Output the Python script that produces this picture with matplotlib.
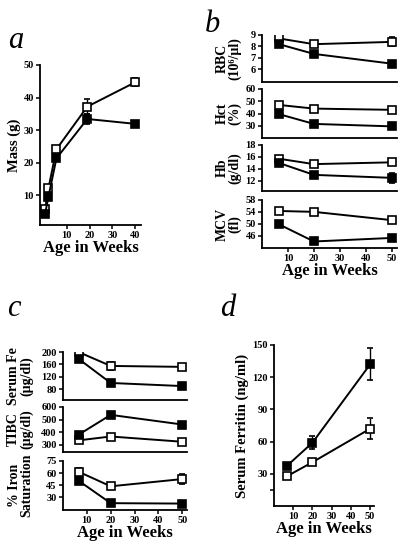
import matplotlib
matplotlib.use("Agg")
from matplotlib import pyplot as plt

plt.rcParams["font.family"] = ["Liberation Serif", "DejaVu Serif"]
plt.rcParams["font.weight"] = "bold"

W, H = 400, 544

# panel a: body mass
a_weeks = [0.5, 2, 5.5, 19, 40]
a_open = [5.6, 12.1, 24.1, 37.2, 44.7]
a_open_err = [0.5, 0.5, 0.5, 2.3, 1.3]
a_filled = [4.1, 9.5, 21.3, 33.4, 31.9]
a_filled_err = [0.5, 0.8, 0.8, 1.6, 1.0]

# panels b, c, d share these ages
weeks = [6.5, 20, 50]

rbc_open = [8.7, 8.2, 8.4]
rbc_open_err = [0.1, 0.1, 0.4]
rbc_filled = [8.2, 7.35, 6.5]
rbc_filled_err = [0.1, 0.1, 0.15]
hct_open = [47, 44, 43]
hct_open_err = [1, 1, 1.5]
hct_filled = [39.5, 31.5, 29.5]
hct_filled_err = [1, 1, 1]
hb_open = [15.7, 14.8, 15.1]
hb_open_err = [0.2, 0.2, 0.4]
hb_filled = [15.0, 13.0, 12.5]
hb_filled_err = [0.3, 0.3, 0.8]
mcv_open = [54.3, 54.0, 51.2]
mcv_open_err = [0.8, 0.8, 0.7]
mcv_filled = [49.8, 44.0, 45.2]
mcv_filled_err = [0.8, 0.8, 0.8]

fe_open = [200, 155, 152]
fe_open_err = [8, 12, 6]
fe_filled = [178, 100, 90]
fe_filled_err = [6, 8, 8]
tibc_open = [333, 364, 322]
tibc_open_err = [8, 8, 12]
tibc_filled = [378, 537, 460]
tibc_filled_err = [10, 25, 18]
sat_open = [61.7, 43.5, 52.5]
sat_open_err = [5, 2, 6]
sat_filled = [50.5, 22.5, 22]
sat_filled_err = [3, 3, 2.5]

ferritin_open = [27.5, 40.8, 72]
ferritin_open_err = [2, 1.5, 10]
ferritin_filled = [37, 59, 132]
ferritin_filled_err = [1.5, 6, 15]


def ax_at(fig, left, top, right, bottom):
    return fig.add_axes([left / W, 1 - bottom / H, (right - left) / W, (bottom - top) / H])


def style(ax, show_x=True):
    for side in ["top", "right"]:
        ax.spines[side].set_visible(False)
    for side in ["left", "bottom"]:
        ax.spines[side].set_linewidth(1.3)
    ax.tick_params(direction="out", length=3, width=1.1, labelsize=7.5, pad=1.5)
    if not show_x:
        ax.tick_params(axis="x", length=0, labelbottom=False)


def series(ax, x, y, yerr, filled):
    face = "black" if filled else "white"
    ax.errorbar(x, y, yerr=yerr, color="black", lw=1.4, marker="s", ms=5.5,
                mfc=face, mec="black", mew=1.2, capsize=2, elinewidth=1.0,
                capthick=1.0, zorder=3)


def ylabel(ax, text, x):
    ax.set_ylabel(text, fontsize=10, fontweight="bold", linespacing=0.95)
    ax.yaxis.set_label_coords(x, 0.5)


def xlabel(ax):
    ax.set_xlabel("Age in Weeks", fontsize=12, fontweight="bold", labelpad=0)


def letter(fig, x, y, s):
    fig.text(x / W, 1 - y / H, s, fontsize=22, style="italic", fontweight="normal",
             ha="center", va="center")


fig = plt.figure(figsize=(W / 100, H / 100), dpi=100)

# a
ax = ax_at(fig, 40, 65, 141, 225)
series(ax, a_weeks, a_open, a_open_err, False)
series(ax, a_weeks, a_filled, a_filled_err, True)
ax.set_xlim(-1.7, 42.5)
ax.set_ylim(0.8, 50)
ax.set_xticks([10, 20, 30, 40])
ax.set_yticks([10, 20, 30, 40, 50])
style(ax)
ax.set_ylabel("Mass (g)", fontsize=10.5, fontweight="bold", labelpad=2)
xlabel(ax)
letter(fig, 16, 40, "a")

# b
b_rows = [
    ((35, 82), "RBC\n(10\u2076/\u00b5l)", rbc_open, rbc_open_err, rbc_filled,
     rbc_filled_err, (4.9, 9), [6, 7, 8, 9]),
    ((89, 138), "Hct\n(%)", hct_open, hct_open_err, hct_filled, hct_filled_err,
     (20, 60), [30, 40, 50, 60]),
    ((145, 191), "Hb\n(g/dl)", hb_open, hb_open_err, hb_filled, hb_filled_err,
     (10.3, 18), [12, 14, 16, 18]),
    ((200, 248), "MCV\n(fl)", mcv_open, mcv_open_err, mcv_filled, mcv_filled_err,
     (41.8, 58), [46, 50, 54, 58]),
]
for i, (ext, lab, yo, yoe, yf, yfe, lim, ticks) in enumerate(b_rows):
    ax = ax_at(fig, 262, ext[0], 397, ext[1])
    series(ax, weeks, yo, yoe, False)
    series(ax, weeks, yf, yfe, True)
    ax.set_xlim(0, 52)
    ax.set_ylim(*lim)
    ax.set_yticks(ticks)
    ax.set_xticks([10, 20, 30, 40, 50])
    last = i == len(b_rows) - 1
    style(ax, show_x=last)
    ylabel(ax, lab, -0.15)
    if last:
        xlabel(ax)
letter(fig, 212, 25, "b")

# c
c_rows = [
    ((352, 400), "Serum Fe\n(\u00b5g/dl)", fe_open, fe_open_err, fe_filled, fe_filled_err,
     (45, 200), [80, 120, 160, 200]),
    ((407, 452), "TIBC\n(\u00b5g/dl)", tibc_open, tibc_open_err, tibc_filled, tibc_filled_err,
     (240, 600), [300, 400, 500, 600]),
    ((461, 510), "% Iron\nSaturation", sat_open, sat_open_err, sat_filled, sat_filled_err,
     (14, 75), [30, 45, 60, 75]),
]
for i, (ext, lab, yo, yoe, yf, yfe, lim, ticks) in enumerate(c_rows):
    ax = ax_at(fig, 63, ext[0], 187, ext[1])
    series(ax, weeks, yo, yoe, False)
    series(ax, weeks, yf, yfe, True)
    ax.set_xlim(0, 52)
    ax.set_ylim(*lim)
    ax.set_yticks(ticks)
    ax.set_xticks([10, 20, 30, 40, 50])
    last = i == len(c_rows) - 1
    style(ax, show_x=last)
    ylabel(ax, lab, -0.24)
    if last:
        xlabel(ax)
letter(fig, 14, 308, "c")

# d
ax = ax_at(fig, 274, 345, 374, 506)
series(ax, weeks, ferritin_open, ferritin_open_err, False)
series(ax, weeks, ferritin_filled, ferritin_filled_err, True)
ax.set_xlim(0, 52)
ax.set_ylim(0, 150)
ax.set_xticks([10, 20, 30, 40, 50])
ax.set_yticks([15, 30, 60, 90, 120, 150])
ax.set_yticklabels(["", "30", "60", "90", "120", "150"])
style(ax)
ax.set_ylabel("Serum Ferritin (ng/ml)", fontsize=10.5, fontweight="bold", labelpad=2)
xlabel(ax)
letter(fig, 228, 308, "d")

fig.savefig("out.png", dpi=100)
